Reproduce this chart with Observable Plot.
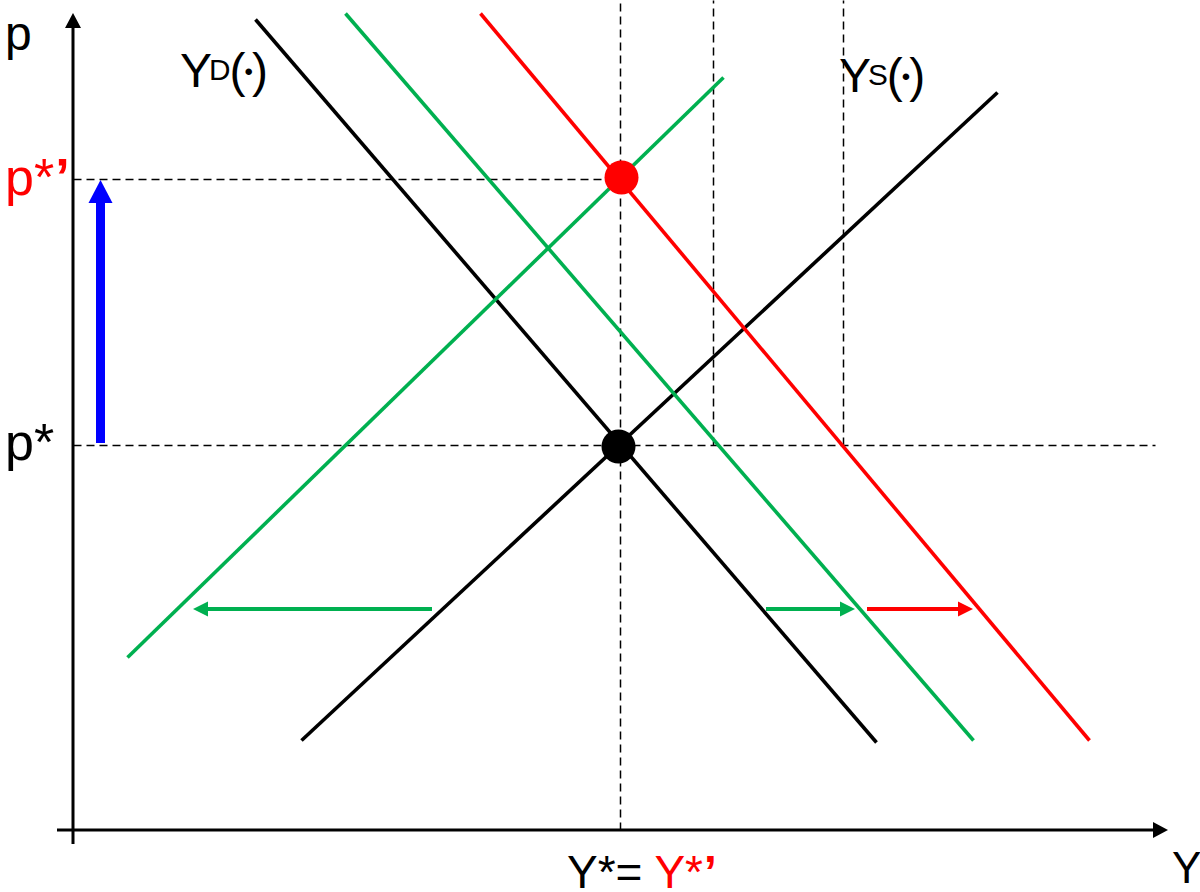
<!DOCTYPE html>
<html>
<head>
<meta charset="utf-8">
<script src="https://cdn.jsdelivr.net/npm/d3@7"></script>
<script src="https://cdn.jsdelivr.net/npm/@observablehq/plot@0.6"></script>
<style>
  html, body { margin: 0; padding: 0; background: #fff; }
  #chart svg { display: block; }
</style>
</head>
<body>
<div id="chart"></div>
<script>
// ---- Data (chart units: Y quantity on x, price p on y) ----
const curveNames  = ["YD", "YS", "YS'", "YD'", "YD''"];
const curveColors = ["#000000", "#000000", "#00B050", "#00B050", "#FF0000"];
const curveX1 = [18.2, 22.8, 5.4, 27.2, 40.7];
const curveY1 = [81.1, 9.0, 17.3, 81.7, 81.7];
const curveX2 = [80.3, 92.4, 65.0, 90.0, 101.6];
const curveY2 = [8.8, 73.8, 75.3, 9.0, 9.0];

const eqNames  = ["E", "E'"];
const eqY      = [54.5, 54.8];
const eqP      = [38.4, 65.3];
const eqColors = ["#000000", "#FF0000"];

const Ystar = 54.7, pStar = 38.5, pStarNew = 65.1;
const yDemand1AtPstar = 64.0, yDemand2AtPstar = 77.0;
const dashTop = 83, dashRight = 108.2;

const shiftX1 = [35.9, 69.3, 79.4, 2.75];
const shiftY1 = [22.1, 22.1, 22.1, 38.7];
const shiftX2 = [12.0, 78.2, 90.0, 2.75];
const shiftY2 = [22.1, 22.1, 22.1, 65.0];
const shiftColors = ["#00B050", "#00B050", "#FF0000", "#0000FF"];
const shiftWidths = [4, 4, 4, 9];
const shiftHeadLen = [15, 15, 15, 23];
const shiftHeadWid = [15, 15, 15, 24];

const axisX1 = [-1.6, 0], axisY1 = [0, -1.4], axisX2 = [109.5, 0], axisY2 = [0, 81.7];

const labelTexts  = [["p"], ["p*", "’"], ["p*"], ["Y", "^D", "(", "•", ")"], ["Y", "^S", "(", "•", ")"], ["Y*= ", "!Y*", "!’"], ["Y"]];
const labelX      = [-6.8, -6.8, -6.8, 10.7, 76.6, 49.4, 109.9];
const labelY      = [78.0, 63.5, 37.0, 74.3, 73.8, -5.8, -5.3];
const labelColors = ["#000", "#FF0000", "#000", "#000", "#000", "#000", "#000"];
const labelSizes  = [48, 52, 52, 48, 48, 46, 44];

// ---- Tables ----
const curves = curveNames.map((n, i) => ({name: n, x1: curveX1[i], y1: curveY1[i], x2: curveX2[i], y2: curveY2[i], color: curveColors[i]}));
const eqs = eqNames.map((n, i) => ({name: n, x: eqY[i], y: eqP[i], color: eqColors[i]}));
const dashes = [
  {x1: 0, y1: pStarNew, x2: Ystar, y2: pStarNew},
  {x1: 0, y1: pStar, x2: dashRight, y2: pStar},
  {x1: Ystar, y1: 0, x2: Ystar, y2: dashTop},
  {x1: yDemand1AtPstar, y1: pStar, x2: yDemand1AtPstar, y2: dashTop},
  {x1: yDemand2AtPstar, y1: pStar, x2: yDemand2AtPstar, y2: dashTop}
];
const arrows = shiftX1.map((x, i) => ({x1: x, y1: shiftY1[i], x2: shiftX2[i], y2: shiftY2[i], color: shiftColors[i], w: shiftWidths[i], hl: shiftHeadLen[i], hw: shiftHeadWid[i]}))
  .concat(axisX1.map((x, i) => ({x1: x, y1: axisY1[i], x2: axisX2[i], y2: axisY2[i], color: "#000", w: 3, hl: 15, hw: 16})));
const labels = labelTexts.map((t, i) => ({parts: t, x: labelX[i], y: labelY[i], color: labelColors[i], size: labelSizes[i]}));

const FONT = "'Liberation Sans', Arial, Helvetica, sans-serif";

// arrows with filled heads, positioned through the scales
function arrowMark(list) {
  return (index, scales) => {
    const g = d3.create("svg:g");
    for (const a of list) {
      const sx = scales.x(a.x1), sy = scales.y(a.y1);
      const tx = scales.x(a.x2), ty = scales.y(a.y2);
      const len = Math.hypot(tx - sx, ty - sy);
      const ux = (tx - sx) / len, uy = (ty - sy) / len;
      const bx = tx - ux * a.hl, by = ty - uy * a.hl;
      g.append("line").attr("x1", sx).attr("y1", sy).attr("x2", bx + ux * 1).attr("y2", by + uy * 1)
        .attr("stroke", a.color).attr("stroke-width", a.w);
      const W = a.hw / 2;
      const pts = [[tx, ty], [bx - uy * W, by + ux * W], [bx + uy * W, by - ux * W]];
      g.append("path").attr("d", "M" + pts.map(p => p.join(",")).join("L") + "Z").attr("fill", a.color);
    }
    return g.node();
  };
}

// rich text labels (superscripts, coloured parts)
function labelMark(list) {
  return (index, scales) => {
    const g = d3.create("svg:g").attr("font-family", FONT).attr("text-anchor", "start");
    for (const l of list) {
      const t = g.append("text").attr("x", scales.x(l.x)).attr("y", scales.y(l.y))
        .attr("font-size", l.size).attr("fill", l.color).attr("text-anchor", "start");
      let raised = false;
      for (let p of l.parts) {
        let ts;
        if (p.startsWith("^")) {
          t.append("tspan").attr("dy", -7).attr("dx", -3).attr("font-size", l.size * 0.62).text(p.slice(1));
          raised = true;
          continue;
        } else if (p === "•") {
          t.append("tspan").attr("font-size", l.size * 0.5).attr("dy", -7).attr("dx", -1).text("•");
          raised = "dot";
          continue;
        }
        if (p.startsWith("!")) { p = p.slice(1); ts = t.append("tspan").attr("fill", "#FF0000").text(p); }
        else ts = t.append("tspan").text(p);
        if (p === "’") ts.attr("font-weight", "bold").attr("dx", 1);
        if (raised === true) { ts.attr("dy", 7).attr("dx", -1); raised = false; }
        else if (raised === "dot") { ts.attr("dy", 7).attr("dx", -1); raised = false; }
      }
    }
    return g.node();
  };
}

const chart = Plot.plot({
  width: 1200,
  height: 892,
  margin: 0,
  marginTop: 0, marginRight: 0, marginBottom: 0, marginLeft: 0,
  x: {domain: [-7.3, 112.7], range: [0, 1200], axis: null},
  y: {domain: [-6.2, 83], range: [892, 0], axis: null},
  color: {type: "identity"},
  style: {background: "#fff", overflow: "visible"},
  marks: [
    Plot.link(dashes, {x1: "x1", y1: "y1", x2: "x2", y2: "y2", stroke: "#000", strokeWidth: 1.5, strokeDasharray: "8,5"}),
    Plot.link(curves, {x1: "x1", y1: "y1", x2: "x2", y2: "y2", stroke: "color", strokeWidth: 3.6}),
    arrowMark(arrows),
    Plot.dot(eqs, {x: "x", y: "y", r: 17, fill: "color", stroke: "none"}),
    labelMark(labels)
  ]
});
document.getElementById("chart").appendChild(chart);
</script>
</body>
</html>
